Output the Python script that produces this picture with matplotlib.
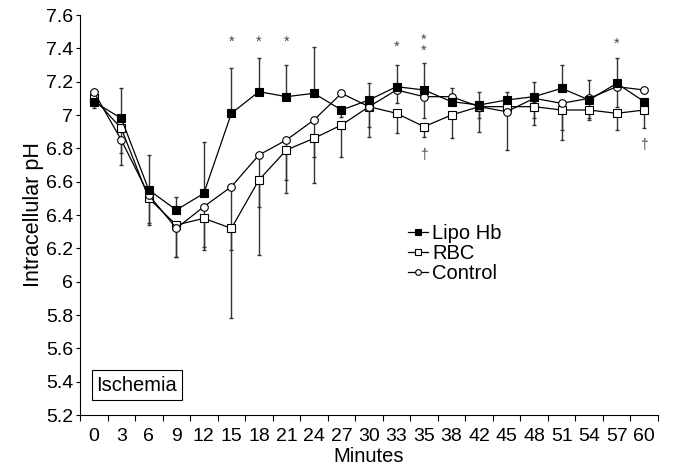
import matplotlib
matplotlib.use('Agg')
import matplotlib.pyplot as plt
import numpy as np

##-----------------------------------------------------------------------------
## data

minutes = ['0', '3', '6', '9', '12', '15', '18', '21', '24', '27', '30',
           '33', '35', '38', '42', '45', '48', '51', '54', '57', '60']

lipo_hb = [7.08, 6.98, 6.55, 6.43, 6.53, 7.01, 7.14, 7.11, 7.13, 7.03, 7.09,
           7.17, 7.15, 7.08, 7.06, 7.09, 7.11, 7.16, 7.09, 7.19, 7.08]
rbc     = [7.10, 6.92, 6.50, 6.34, 6.38, 6.32, 6.61, 6.79, 6.86, 6.94, 7.05,
           7.01, 6.93, 7.00, 7.05, 7.05, 7.05, 7.03, 7.03, 7.01, 7.03]
control = [7.14, 6.85, 6.52, 6.32, 6.45, 6.57, 6.76, 6.85, 6.97, 7.13, 7.05,
           7.15, 7.11, 7.11, 7.05, 7.02, 7.10, 7.07, 7.10, 7.17, 7.15]

## one-sided error bars (SD)
lipo_up  = [0, .18, .21, .08, .31, .27, .20, .19, .28, 0, .10,
            .13, .16, .08, .08, .05, .09, .14, .12, .15, 0]
lipo_dn  = [.04, 0, 0, 0, 0, 0, 0, 0, 0, .04, 0,
            0, 0, 0, 0, 0, 0, 0, 0, 0, 0]
rbc_dn   = [0, .15, .16, .19, .19, .54, .45, .26, .27, .19, .18,
            .12, .06, .14, .15, 0, .11, .18, .06, .10, .11]
ctrl_dn  = [0, .15, .17, .17, .24, .38, .31, .24, .22, 0, .12,
            .08, .13, 0, .07, .23, .12, .16, .12, .12, 0]

## significance marks: (index, pH, number of stars)
star_marks   = [(5, 7.44, 1), (6, 7.44, 1), (7, 7.44, 1), (11, 7.41, 1),
                (12, 7.42, 2), (19, 7.43, 1)]
dagger_marks = [(12, 6.76), (20, 6.82)]

##-----------------------------------------------------------------------------

plt.rcParams['font.family'] = ['Liberation Sans', 'DejaVu Sans']

fig = plt.figure(figsize=(6.74, 4.73), dpi=100)
ax = fig.add_axes([80/674, 1 - 415/473, 578/674, 400/473])

x = np.arange(len(minutes))
zeros = np.zeros(len(x))
ebar = dict(ecolor='#333333', elinewidth=1.0, capsize=1.6, capthick=1.0)

ax.errorbar(x, rbc, yerr=[rbc_dn, zeros], fmt='none', zorder=1, **ebar)
ax.errorbar(x, control, yerr=[ctrl_dn, zeros], fmt='none', zorder=1, **ebar)
ax.errorbar(x, lipo_hb, yerr=[lipo_dn, lipo_up], fmt='none', zorder=1, **ebar)

ax.plot(x, rbc, color='black', lw=0.9, marker='s', ms=5.3, mfc='white',
        mec='black', mew=0.8, label='RBC', zorder=3)
ax.plot(x, control, color='black', lw=0.9, marker='o', ms=5.5, mfc='white',
        mec='black', mew=0.8, label='Control', zorder=4)
ax.plot(x, lipo_hb, color='black', lw=0.9, marker='s', ms=5.3, mfc='black',
        mec='black', mew=0.8, label='Lipo Hb', zorder=5)

for i, y, n in star_marks:
    ax.text(i, y, '\n'.join(['*'] * n), ha='center', va='center', fontsize=10.5,
            color='#444444', linespacing=0.75)
for i, y in dagger_marks:
    ax.text(i, y, '\u2020', ha='center', va='center', fontsize=10, color='#444444')

ax.set_xlim(-0.5, len(x) - 0.5)
ax.set_ylim(5.2, 7.6)
ax.set_yticks(np.arange(5.2, 7.61, 0.2))
ax.set_yticklabels(['%g' % round(v, 1) for v in np.arange(5.2, 7.61, 0.2)])
ax.set_xticks(x)
ax.set_xticklabels(minutes, family=['Liberation Sans Narrow', 'Liberation Sans'])
ax.set_xticks(np.arange(-0.5, len(x), 1), minor=True)

ax.tick_params(axis='x', which='major', length=0, pad=9, labelsize=14)
ax.tick_params(axis='x', which='minor', length=4, width=0.8, direction='out')
ax.tick_params(axis='y', length=3, width=0.8, pad=2, labelsize=14)

for s in ['top', 'right']:
    ax.spines[s].set_visible(False)
for s in ['left', 'bottom']:
    ax.spines[s].set_linewidth(0.8)

ax.set_xlabel('Minutes', fontsize=14.5, labelpad=2)
ax.set_ylabel('Intracellular pH', fontsize=15.5, labelpad=1)

handles, labels = ax.get_legend_handles_labels()
order = [2, 0, 1]
ax.legend([handles[k] for k in order], [labels[k] for k in order],
          loc='upper left', bbox_to_anchor=(0.568, 0.478), frameon=False,
          fontsize=14.5, markerscale=0.75, handlelength=1.0,
          handletextpad=0.2, labelspacing=0.05, borderpad=0, borderaxespad=0)

ax.text(0.0986, 0.075, 'Ischemia', transform=ax.transAxes, ha='center',
        va='center', fontsize=14.5,
        bbox=dict(boxstyle='square,pad=0.25', fc='white', ec='black', lw=0.8))

fig.savefig('out.png', dpi=100)
